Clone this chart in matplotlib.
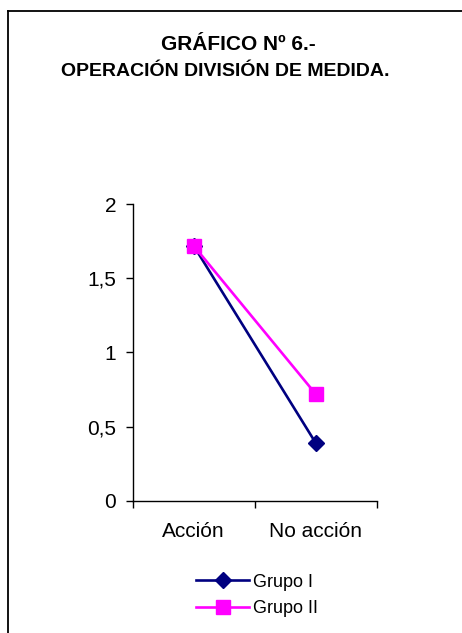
import matplotlib
matplotlib.use("Agg")
import matplotlib.pyplot as plt
from matplotlib.lines import Line2D

plt.rcParams['font.family'] = ['Liberation Sans', 'DejaVu Sans']

# datos del gráfico
categorias = ["Acción", "No acción"]
grupo_1 = [1.72, 0.39]
grupo_2 = [1.72, 0.72]
etiquetas_y = ["0", "0,5", "1", "1,5", "2"]
valores_y = [0, 0.5, 1, 1.5, 2]

fig = plt.figure(figsize=(4.62, 6.33), dpi=100)
ax = fig.add_axes([0.2872, 0.2090, 0.5281, 0.4683])

x = list(range(len(categorias)))
ax.plot(x, grupo_1, color="#000080", marker="D", markersize=8, lw=1.9, label="Grupo I")
ax.plot(x, grupo_2, color="#FF00FF", marker="s", markersize=10, lw=1.9, label="Grupo II")

ax.set_xlim(-0.5, len(categorias) - 0.5)
ax.set_ylim(0, 2)
ax.set_yticks(valores_y)
ax.set_yticklabels(etiquetas_y, fontsize=15)
ax.set_xticks(x)
ax.set_xticklabels(categorias, fontsize=15)
ax.tick_params(axis="x", length=0, pad=15)
ax.set_xticks([i - 0.5 for i in range(len(categorias) + 1)], minor=True)
ax.tick_params(axis="x", which="minor", length=5, direction="out", width=1)
ax.tick_params(axis="y", length=5, direction="out", width=1, pad=7)
for s in ["top", "right"]:
    ax.spines[s].set_visible(False)
for s in ["left", "bottom"]:
    ax.spines[s].set_linewidth(1)

# titulo
fig.text(0.517, 1 - 45 / 633, "GRÁFICO Nº 6.-", ha="center", va="center",
         fontsize=15, fontweight="bold")
fig.text(0.487, 1 - 71 / 633, "OPERACIÓN DIVISIÓN DE MEDIDA.", ha="center", va="center",
         fontsize=14, fontweight="bold")

# leyenda
fig.legend(loc="center", bbox_to_anchor=(0.557, 1 - 595.5 / 633), frameon=False,
           fontsize=13, handlelength=2.9, handletextpad=0.25, labelspacing=0.55)

# marco del gráfico (solo borde superior e izquierdo visible)
fig.add_artist(Line2D([8 / 462, 8 / 462], [0, 1 - 11 / 633], color="black", lw=1.3,
                      transform=fig.transFigure))
fig.add_artist(Line2D([8 / 462, 1], [1 - 11 / 633, 1 - 11 / 633], color="black", lw=1.3,
                      transform=fig.transFigure))

fig.savefig("out.png", dpi=100)
